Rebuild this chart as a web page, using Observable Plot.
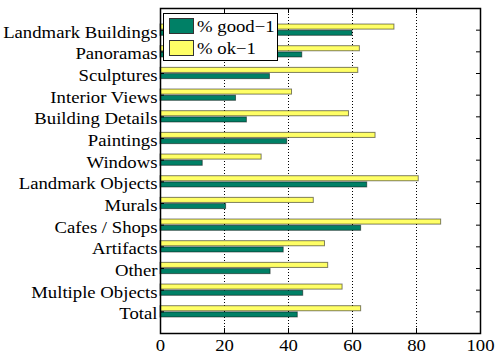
<!DOCTYPE html>
<html>
<head>
<meta charset="utf-8">
<script src="https://cdn.jsdelivr.net/npm/d3@7"></script>
<script src="https://cdn.jsdelivr.net/npm/@observablehq/plot@0.6"></script>
<style>
  body { margin: 0; background: #fff; }
  #wrap { position: relative; width: 498px; height: 354px; font-family: "Liberation Serif", "Times New Roman", serif; }
  #wrap svg { position: absolute; left: 0; top: 0; }
  .legend { position: absolute; left: 163px; top: 12.5px; width: 115px; height: 48px; border: 1.3px solid #000; background: #fff; box-sizing: border-box; }
  .sw { position: absolute; left: 5px; width: 25px; height: 16px; border: 1px solid #333; box-sizing: border-box; }
  .lt { position: absolute; left: 33px; font-size: 16px; line-height: 16px; white-space: nowrap; transform: scaleX(1.17); transform-origin: left center; color: #000; }
</style>
</head>
<body>
<div id="wrap"></div>
<script>
const categories = ["Landmark Buildings", "Panoramas", "Sculptures", "Interior Views", "Building Details", "Paintings", "Windows", "Landmark Objects", "Murals", "Cafes / Shops", "Artifacts", "Other", "Multiple Objects", "Total"];
const good = [60.0, 44.3, 34.2, 23.6, 27.0, 39.6, 13.2, 64.6, 20.5, 62.7, 38.5, 34.4, 44.6, 42.9];
const ok = [73.1, 62.3, 61.8, 41.1, 58.9, 67.2, 31.6, 80.7, 47.9, 87.7, 51.4, 52.4, 56.9, 62.7];
const seriesNames = ["% good\u22121", "% ok\u22121"];
const seriesColors = ["#008066", "#ffff66"];
const xTicks = [0, 20, 40, 60, 80, 100];
const gridTicks = [20, 40, 60, 80];

const rows = categories.map((c, i) => ({category: c, good: good[i], ok: ok[i]}));

const chart = Plot.plot({
  width: 498,
  height: 354,
  marginLeft: 160,
  marginRight: 18,
  marginTop: 8,
  marginBottom: 21,
  style: {fontFamily: "'Liberation Serif', 'Times New Roman', serif", fontSize: "16px", background: "white", color: "black"},
  x: {domain: [0, 100], ticks: xTicks, label: null},
  y: {domain: categories, paddingInner: 0, paddingOuter: 0.5, round: false, label: null},
  marks: [
    Plot.ruleX(gridTicks, {x: d => d, stroke: "black", strokeWidth: 1, strokeDasharray: "1,2"}),
    Plot.barX(rows, {x: "ok", y: "category", fill: seriesColors[1], stroke: "#000", strokeOpacity: 0.5, strokeWidth: 1, insetTop: 5.2, insetBottom: 11.4}),
    Plot.barX(rows, {x: "good", y: "category", fill: seriesColors[0], stroke: "#000", strokeOpacity: 0.5, strokeWidth: 1, insetTop: 11.4, insetBottom: 5.2}),
    Plot.ruleX(xTicks, {x: d => d, stroke: "black", strokeWidth: 1, insetTop: 320}),
    Plot.ruleX(xTicks, {x: d => d, stroke: "black", strokeWidth: 1, insetBottom: 320}),
    Plot.ruleY(categories, {y: d => d, stroke: "black", strokeWidth: 1, insetLeft: 316}),
    Plot.ruleY(categories, {y: d => d, stroke: "black", strokeWidth: 1, insetRight: 316}),
    Plot.frame({stroke: "black", strokeWidth: 1.5}),
    Plot.axisX(xTicks, {tickSize: 0, tickPadding: 6, fontSize: 16, label: null}),
    Plot.axisY({tickSize: 0, tickPadding: 3, fontSize: 16, dy: 2.5, label: null})
  ]
});

// Horizontally stretch the text as in the reference rendering
chart.querySelectorAll("text").forEach(t => {
  const tr = t.getAttribute("transform");
  if (tr) t.setAttribute("transform", tr + " scale(1.17,1)");
});

const wrap = document.getElementById("wrap");
wrap.appendChild(chart);

// Legend
const legend = document.createElement("div");
legend.className = "legend";
const tops = [4, 26];
const textTops = [5, 27];
seriesNames.forEach((name, i) => {
  const sw = document.createElement("div");
  sw.className = "sw";
  sw.style.top = tops[i] + "px";
  sw.style.background = seriesColors[i];
  legend.appendChild(sw);
  const lt = document.createElement("div");
  lt.className = "lt";
  lt.style.top = textTops[i] + "px";
  lt.textContent = name;
  legend.appendChild(lt);
});
wrap.appendChild(legend);
</script>
</body>
</html>
